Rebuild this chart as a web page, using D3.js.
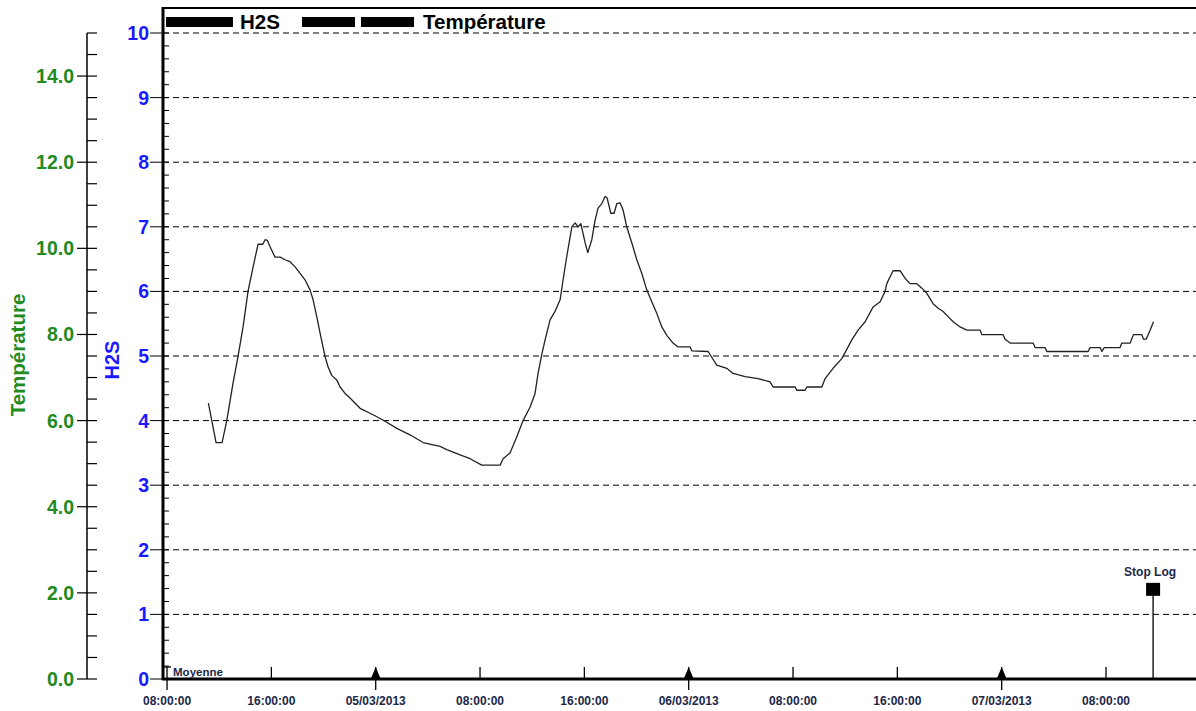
<!DOCTYPE html>
<html><head><meta charset="utf-8">
<script src="https://cdn.jsdelivr.net/npm/d3@7"></script>
<style>
html,body{margin:0;padding:0;background:#fff;}
svg{display:block;font-family:Arial,"Liberation Sans",sans-serif;}
</style></head>
<body>
<svg id="chart" width="1196" height="711"></svg>
<script>
// ---- data ----
const startTime = new Date(2013, 2, 4, 8, 0, 0); // 04/03/2013 08:00:00
// hours after start
const hours = [3.17,3.76,4.22,4.58,5.06,5.44,5.83,6.21,6.60,6.98,7.34,7.52,7.69,7.90,8.28,8.67,9.05,9.43,9.82,10.20,10.58,10.97,11.20,11.48,11.79,12.12,12.35,12.63,13.01,13.27,13.65,14.03,14.80,15.80,16.56,17.62,18.63,19.63,20.94,21.45,22.47,23.24,24.13,25.54,25.77,26.30,26.82,27.30,27.84,28.22,28.45,28.73,28.99,29.37,29.75,30.14,30.37,30.65,31.04,31.29,31.52,31.73,32.06,32.26,32.57,32.82,33.05,33.34,33.59,33.74,34.03,34.28,34.49,34.74,34.97,35.25,35.64,36.02,36.40,36.79,37.17,37.55,37.94,38.32,38.80,39.19,40.11,40.24,41.49,42.15,42.92,43.40,44.33,45.32,46.24,46.47,48.16,48.29,48.93,49.06,50.21,50.46,51.07,51.74,52.51,52.99,53.53,54.14,54.68,55.06,55.19,55.67,56.21,56.60,56.98,57.49,57.88,58.26,58.74,59.13,59.51,59.89,60.28,60.81,61.33,62.35,62.48,64.11,64.26,64.65,66.41,66.56,67.33,67.46,70.63,70.78,71.55,71.68,71.86,73.08,73.21,73.85,74.10,74.75,74.87,75.08,75.38,75.64];
const h2s = [4.27,3.66,3.66,4.00,4.58,4.99,5.45,6.00,6.38,6.73,6.73,6.80,6.79,6.69,6.53,6.53,6.49,6.46,6.38,6.28,6.18,6.02,5.87,5.61,5.30,4.99,4.83,4.70,4.63,4.52,4.42,4.35,4.19,4.09,4.01,3.88,3.78,3.66,3.60,3.55,3.47,3.41,3.31,3.31,3.41,3.50,3.75,4.00,4.21,4.42,4.73,5.02,5.25,5.56,5.69,5.87,6.18,6.54,7.00,7.06,7.00,7.05,6.75,6.60,6.80,7.10,7.29,7.36,7.47,7.45,7.21,7.21,7.36,7.37,7.26,7.00,6.75,6.49,6.28,6.02,5.84,5.66,5.45,5.32,5.20,5.14,5.14,5.08,5.07,4.86,4.81,4.73,4.68,4.65,4.60,4.52,4.52,4.47,4.47,4.52,4.52,4.65,4.81,4.96,5.25,5.40,5.53,5.76,5.84,6.00,6.12,6.32,6.32,6.20,6.12,6.12,6.05,5.97,5.81,5.74,5.69,5.61,5.53,5.45,5.40,5.40,5.33,5.33,5.26,5.20,5.20,5.13,5.13,5.07,5.07,5.13,5.13,5.07,5.13,5.13,5.20,5.20,5.33,5.33,5.26,5.26,5.40,5.53];
const xDomainHours = [-0.31, 78.9];
const tickHours = [0,8,16,24,32,40,48,56,64,72];
const tickLabels = ["08:00:00","16:00:00","05/03/2013","08:00:00","16:00:00","06/03/2013","08:00:00","16:00:00","07/03/2013","08:00:00"];
const dateTickHours = [16,40,64];
const h2sTicks = [0,1,2,3,4,5,6,7,8,9,10];
const tempTicks = [0,2,4,6,8,10,12,14];
const moyenneHour = 0;
const stopLogHour = 75.61, stopLogValue = 1.38;
const legendNames = ["H2S","Température"];

// ---- layout ----
const svg = d3.select("#chart");
const L = 163, R = 1196, T = 8, B = 679, yTop = 33;
const BLUE = "#1a1aff", GREEN = "#228a1e", NAVY = "#1b2848";
const toDate = h => new Date(startTime.getTime() + h * 3600e3);

const x = d3.scaleTime().domain(xDomainHours.map(toDate)).range([L, R]);
const yH = d3.scaleLinear().domain([0, 10]).range([B, yTop]);
const yT = d3.scaleLinear().domain([0, 15]).range([B, yTop]);

// grid lines
svg.append("g").selectAll("line").data(h2sTicks.filter(d => d > 0)).join("line")
  .attr("x1", L).attr("x2", R).attr("y1", d => yH(d)).attr("y2", d => yH(d))
  .attr("stroke", "#000").attr("stroke-width", 1).attr("stroke-dasharray", "6,4");

// frame top
svg.append("line").attr("x1", L).attr("x2", R).attr("y1", T).attr("y2", T)
  .attr("stroke", "#000").attr("stroke-width", 2);

// H2S axis (left of plot)
const gH = svg.append("g");
gH.append("line").attr("x1", L).attr("x2", L).attr("y1", T - 1).attr("y2", B + 1)
  .attr("stroke", "#000").attr("stroke-width", 3);
const minorH = d3.range(0, 10.001, 0.2);
gH.selectAll("line.minor").data(minorH).join("line").attr("class", "minor")
  .attr("x1", L).attr("x2", L + 6).attr("y1", d => yH(d)).attr("y2", d => yH(d))
  .attr("stroke", "#000").attr("stroke-width", 1);
gH.selectAll("line.major").data(h2sTicks).join("line").attr("class", "major")
  .attr("x1", L - 13).attr("x2", L).attr("y1", d => yH(d)).attr("y2", d => yH(d))
  .attr("stroke", "#000").attr("stroke-width", 1);
gH.selectAll("text").data(h2sTicks).join("text")
  .attr("x", L - 14).attr("y", d => yH(d)).attr("dy", "0.36em")
  .attr("text-anchor", "end").attr("fill", BLUE)
  .style("font-size", "19.5px").style("font-weight", "bold").text(d => d);
svg.append("text").attr("transform", `translate(119,360) rotate(-90)`)
  .attr("text-anchor", "middle").attr("fill", BLUE)
  .style("font-size", "20px").style("font-weight", "bold").text(legendNames[0]);

// Temperature axis
const TX = 87;
const gT = svg.append("g");
gT.append("line").attr("x1", TX).attr("x2", TX).attr("y1", yT(15)).attr("y2", yT(0))
  .attr("stroke", "#000").attr("stroke-width", 1.5);
gT.selectAll("line.minor").data(d3.range(0, 15.001, 0.5)).join("line").attr("class", "minor")
  .attr("x1", TX).attr("x2", TX + 10).attr("y1", d => yT(d)).attr("y2", d => yT(d))
  .attr("stroke", "#000").attr("stroke-width", 1.2);
gT.selectAll("line.major").data(tempTicks).join("line").attr("class", "major")
  .attr("x1", TX - 10).attr("x2", TX).attr("y1", d => yT(d)).attr("y2", d => yT(d))
  .attr("stroke", "#000").attr("stroke-width", 1.2);
gT.selectAll("text").data(tempTicks).join("text")
  .attr("x", TX - 13).attr("y", d => yT(d)).attr("dy", "0.36em")
  .attr("text-anchor", "end").attr("fill", GREEN)
  .style("font-size", "19.5px").style("font-weight", "bold").text(d3.format(".1f"));
svg.append("text").attr("transform", `translate(25,355) rotate(-90)`)
  .attr("text-anchor", "middle").attr("fill", GREEN)
  .style("font-size", "20.5px").style("font-weight", "bold").text(legendNames[1]);

// x axis
const gX = svg.append("g");
gX.append("line").attr("x1", L - 1).attr("x2", R).attr("y1", B).attr("y2", B)
  .attr("stroke", "#000").attr("stroke-width", 3);
gX.selectAll("line.tick").data(tickHours).join("line").attr("class", "tick")
  .attr("x1", d => x(toDate(d))).attr("x2", d => x(toDate(d)))
  .attr("y1", B - 12).attr("y2", d => (dateTickHours.includes(d) || d === moyenneHour) ? B + 11 : B)
  .attr("stroke", "#000").attr("stroke-width", 1.3);
gX.selectAll("path.tri").data(dateTickHours).join("path").attr("class", "tri")
  .attr("d", d => { const cx = x(toDate(d)); return `M${cx - 5},${B} L${cx},${B - 12} L${cx + 5},${B} Z`; })
  .attr("fill", "#000");
gX.selectAll("text").data(tickHours).join("text")
  .attr("x", d => x(toDate(d))).attr("y", B + 26)
  .attr("text-anchor", "middle").attr("fill", NAVY)
  .style("font-size", "12px").style("font-weight", "bold")
  .text((d, i) => tickLabels[i]);

// Moyenne marker
const mx = x(toDate(moyenneHour));
svg.append("line").attr("x1", mx - 3).attr("x2", mx + 4).attr("y1", B - 12).attr("y2", B - 12)
  .attr("stroke", "#000").attr("stroke-width", 1.3);
svg.append("text").attr("x", mx + 6).attr("y", B - 3).attr("fill", NAVY)
  .style("font-size", "11.5px").style("font-weight", "bold").text("Moyenne");

// H2S line
const line = d3.line().x((d, i) => x(toDate(hours[i]))).y(d => yH(d));
svg.append("path").datum(h2s).attr("d", line)
  .attr("fill", "none").attr("stroke", "#222").attr("stroke-width", 1.3)
  .attr("stroke-linejoin", "round");

// Stop Log marker
const sx = x(toDate(stopLogHour));
svg.append("line").attr("x1", sx).attr("x2", sx).attr("y1", B).attr("y2", yH(stopLogValue))
  .attr("stroke", "#000").attr("stroke-width", 1.3);
svg.append("rect").attr("x", sx - 7).attr("y", yH(stopLogValue) - 7).attr("width", 14).attr("height", 13)
  .attr("fill", "#000");
svg.append("text").attr("x", sx - 3).attr("y", yH(stopLogValue) - 14).attr("text-anchor", "middle")
  .attr("fill", NAVY).style("font-size", "12px").style("font-weight", "bold").text("Stop Log");

// Legend
const lg = svg.append("g");
lg.append("rect").attr("x", 166).attr("y", 17).attr("width", 67).attr("height", 10).attr("fill", "#000");
lg.append("text").attr("x", 240).attr("y", 29).attr("fill", "#000")
  .style("font-size", "20.5px").style("font-weight", "bold").text(legendNames[0]);
lg.append("rect").attr("x", 302).attr("y", 17).attr("width", 53).attr("height", 10).attr("fill", "#000");
lg.append("rect").attr("x", 361).attr("y", 17).attr("width", 53).attr("height", 10).attr("fill", "#000");
lg.append("text").attr("x", 423).attr("y", 29).attr("fill", "#000")
  .style("font-size", "20.5px").style("font-weight", "bold").text(legendNames[1]);
</script>
</body></html>
